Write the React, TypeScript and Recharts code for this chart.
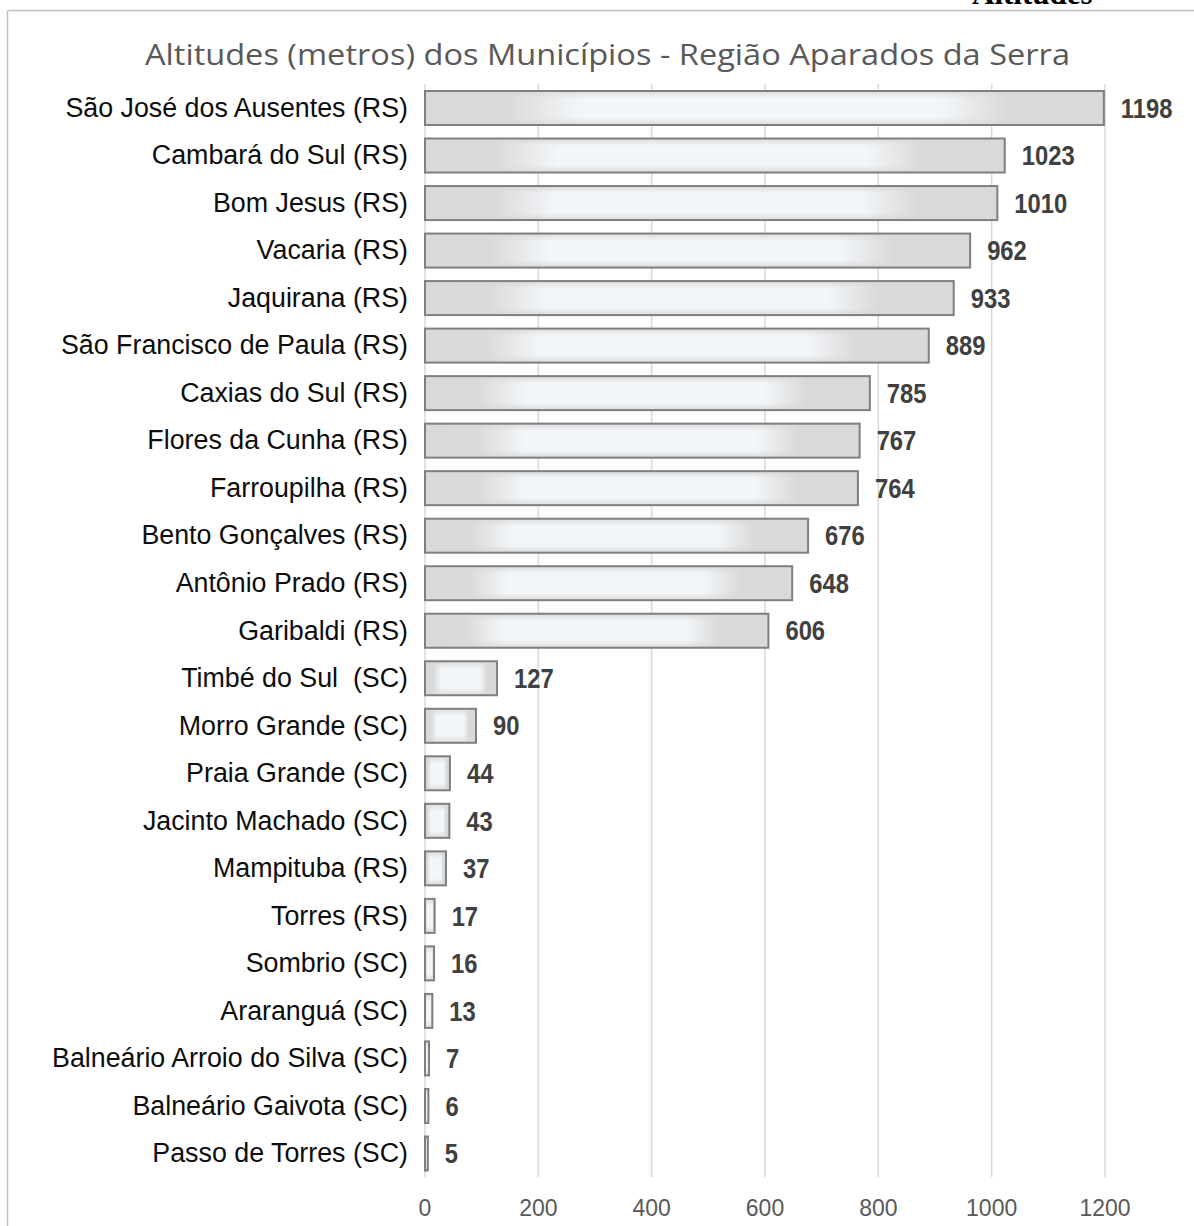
import React from "react";
import {
  BarChart,
  Bar,
  XAxis,
  YAxis,
  CartesianGrid,
  LabelList,
} from "recharts";

const MUNICIPIOS = [
  "São José dos Ausentes (RS)",
  "Cambará do Sul (RS)",
  "Bom Jesus (RS)",
  "Vacaria (RS)",
  "Jaquirana (RS)",
  "São Francisco de Paula (RS)",
  "Caxias do Sul (RS)",
  "Flores da Cunha (RS)",
  "Farroupilha (RS)",
  "Bento Gonçalves (RS)",
  "Antônio Prado (RS)",
  "Garibaldi (RS)",
  "Timbé do Sul  (SC)",
  "Morro Grande (SC)",
  "Praia Grande (SC)",
  "Jacinto Machado (SC)",
  "Mampituba (RS)",
  "Torres (RS)",
  "Sombrio (SC)",
  "Araranguá (SC)",
  "Balneário Arroio do Silva (SC)",
  "Balneário Gaivota (SC)",
  "Passo de Torres (SC)",
];

const ALTITUDES = [
  1198, 1023, 1010, 962, 933, 889, 785, 767, 764, 676, 648, 606, 127, 90, 44,
  43, 37, 17, 16, 13, 7, 6, 5,
];

const X_TICKS = [0, 200, 400, 600, 800, 1000, 1200];

const TITLE = "Altitudes (metros) dos Municípios - Região Aparados da Serra";

const data = MUNICIPIOS.map((nome, i) => ({ nome, alt: ALTITUDES[i] }));

// bar with the grey -> light -> grey "glow" fill
function GlowBar(props: any) {
  const { x, y, width, height, index } = props;
  if (width == null || height == null) return null;
  const h = `hg-${index}`;
  const v = `vg-${index}`;
  return (
    <g>
      <defs>
        <linearGradient id={h} x1="0" y1="0" x2="1" y2="0">
          <stop offset="0" stopColor="#d9d9d9" />
          <stop offset="0.12" stopColor="#dadada" />
          <stop offset="0.23" stopColor="#f3f6f9" />
          <stop offset="0.76" stopColor="#f3f6f9" />
          <stop offset="0.86" stopColor="#d9d9d9" />
          <stop offset="1" stopColor="#d9d9d9" />
        </linearGradient>
        <linearGradient id={v} x1="0" y1="0" x2="0" y2="1">
          <stop offset="0" stopColor="#d9d9d9" stopOpacity="0.9" />
          <stop offset="0.22" stopColor="#d9d9d9" stopOpacity="0" />
          <stop offset="0.78" stopColor="#d9d9d9" stopOpacity="0" />
          <stop offset="1" stopColor="#d9d9d9" stopOpacity="0.9" />
        </linearGradient>
      </defs>
      <rect x={x} y={y} width={width} height={height} fill={`url(#${h})`} />
      <rect x={x} y={y} width={width} height={height} fill={`url(#${v})`} />
      <rect
        x={x}
        y={y}
        width={width}
        height={height}
        fill="none"
        stroke="#7f7f7f"
        strokeWidth={2}
      />
    </g>
  );
}

function CatTick(props: any) {
  const { x, y, payload } = props;
  return (
    <text
      x={x}
      y={y}
      textAnchor="end"
      dominantBaseline="central"
      fontFamily="'Liberation Sans', Arial, sans-serif"
      fontSize={26.8}
      fill="#0d0d0d"
      style={{ whiteSpace: "pre" }}
    >
      {payload.value}
    </text>
  );
}

function ValTick(props: any) {
  const { x, y, payload } = props;
  return (
    <text
      x={x}
      y={y + 31}
      textAnchor="middle"
      fontFamily="'Liberation Sans', Arial, sans-serif"
      fontSize={23}
      fill="#595959"
    >
      {payload.value}
    </text>
  );
}

// bold, horizontally squeezed value label (Arial Narrow look)
function NarrowLabel(props: any) {
  const { x, y, width, height, value } = props;
  const lx = x + width + 17;
  const ly = y + height / 2;
  return (
    <text
      transform={`translate(${lx},${ly}) scale(0.85,1)`}
      x={0}
      y={0}
      dominantBaseline="central"
      fontFamily="'Liberation Sans', Arial, sans-serif"
      fontWeight="bold"
      fontSize={28}
      fill="#404040"
    >
      {value}
    </text>
  );
}

export default function App() {
  return (
    <div
      style={{
        position: "absolute",
        left: 0,
        top: 0,
        width: 1194,
        height: 1226,
        background: "#fff",
        overflow: "hidden",
      }}
    >
      <svg
        width={1194}
        height={1226}
        style={{ position: "absolute", left: 0, top: 0 }}
      >
        <text
          x={972}
          y={4}
          fontFamily="'Liberation Serif', 'Times New Roman', serif"
          fontWeight="bold"
          fontSize={31}
          fill="#000"
        >
          Altitudes
        </text>
        <line x1={7.5} y1={10.5} x2={1194} y2={10.5} stroke="#c0c0c0" strokeWidth={1.5} />
        <line x1={7.5} y1={10.5} x2={7.5} y2={1226} stroke="#c0c0c0" strokeWidth={1.5} />
        <text
          x={607.5}
          y={65}
          textAnchor="middle"
          fontFamily="'Open Sans', 'Noto Sans', sans-serif"
          fontSize={30}
          fill="#595959"
          textLength={925}
          lengthAdjust="spacingAndGlyphs"
        >
          {TITLE}
        </text>
      </svg>
      <div style={{ position: "absolute", left: 0, top: 0 }}>
        <BarChart
          width={1194}
          height={1226}
          data={data}
          layout="vertical"
          margin={{ top: 84, right: 89, bottom: 0, left: 0 }}
        >
          <CartesianGrid
            horizontal={false}
            stroke="#d9d9d9"
            strokeWidth={1.5}
          />
          <XAxis
            type="number"
            domain={[0, 1200]}
            ticks={X_TICKS}
            axisLine={false}
            tickLine={false}
            height={49}
            tick={<ValTick />}
          />
          <YAxis
            type="category"
            dataKey="nome"
            width={425}
            axisLine={false}
            tickLine={false}
            tickSize={6}
            tickMargin={11}
            interval={0}
            tick={<CatTick />}
          />
          <Bar
            dataKey="alt"
            barSize={34}
            shape={<GlowBar />}
            isAnimationActive={false}
          >
            <LabelList dataKey="alt" content={<NarrowLabel />} />
          </Bar>
        </BarChart>
      </div>
    </div>
  );
}
